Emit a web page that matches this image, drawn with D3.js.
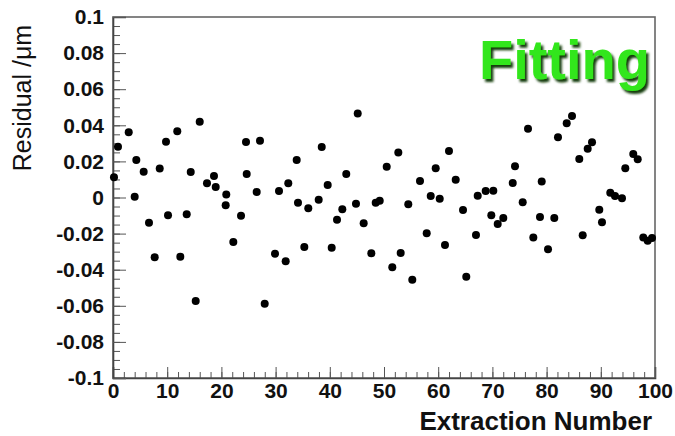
<!DOCTYPE html>
<html><head><meta charset="utf-8">
<script src="https://cdn.jsdelivr.net/npm/d3@7/dist/d3.min.js"></script>
<style>
html,body{margin:0;padding:0;background:#fff;}
svg{display:block;}
</style></head>
<body>
<svg id="chart" width="675" height="436"></svg>
<script>
// Extraction number (x) and residual in µm (y)
const extraction = [0.18,0.92,2.90,4.00,4.30,5.66,6.64,7.69,8.62,9.78,10.15,11.86,12.42,13.60,14.34,15.26,16.00,17.34,18.63,18.95,20.79,20.90,22.20,23.62,24.54,24.67,26.51,27.12,27.99,29.89,30.63,31.86,32.34,33.89,34.13,35.30,36.03,37.95,38.51,39.61,40.35,41.33,42.31,43.04,44.83,45.15,46.25,47.66,48.47,49.21,50.50,51.53,52.64,53.08,54.48,55.22,56.64,57.88,58.62,59.54,60.28,61.25,61.99,63.23,64.58,65.18,66.97,67.29,68.76,69.80,70.17,70.98,72.01,73.75,74.17,75.59,76.57,77.55,78.78,79.10,80.26,81.42,82.10,83.71,84.69,86.03,86.66,87.58,88.38,89.72,90.22,91.75,92.62,93.91,94.52,95.99,96.81,97.84,98.65,99.45];
const residual = [0.0112,0.0281,0.0361,0.0004,0.0208,0.0143,-0.0140,-0.0331,0.0160,0.0309,-0.0099,0.0367,-0.0328,-0.0093,0.0141,-0.0573,0.0420,0.0079,0.0119,0.0058,-0.0043,0.0016,-0.0247,-0.0101,0.0307,0.0130,0.0030,0.0315,-0.0588,-0.0311,0.0036,-0.0353,0.0079,0.0208,-0.0029,-0.0274,-0.0060,-0.0012,0.0280,0.0069,-0.0278,-0.0123,-0.0065,0.0130,-0.0034,0.0466,-0.0143,-0.0309,-0.0029,-0.0018,0.0171,-0.0387,0.0250,-0.0307,-0.0038,-0.0455,0.0091,-0.0198,0.0008,0.0162,-0.0007,-0.0263,0.0258,0.0099,-0.0069,-0.0439,-0.0208,0.0010,0.0036,-0.0099,0.0038,-0.0147,-0.0114,0.0080,0.0173,-0.0027,0.0381,-0.0221,-0.0108,0.0088,-0.0287,-0.0114,0.0334,0.0411,0.0452,0.0213,-0.0209,0.0270,0.0306,-0.0068,-0.0137,0.0027,0.0008,-0.0004,0.0162,0.0241,0.0212,-0.0221,-0.0239,-0.0224];

const xTickValues = [0,10,20,30,40,50,60,70,80,90,100];
const xTickLabels = ["0","10","20","30","40","50","60","70","80","90","100"];
const yTickValues = [-0.1,-0.08,-0.06,-0.04,-0.02,0,0.02,0.04,0.06,0.08,0.1];
const yTickLabels = ["-0.1","-0.08","-0.06","-0.04","-0.02","0","0.02","0.04","0.06","0.08","0.1"];
const xTitle = "Extraction Number";
const yTitle = "Residual /\u03bcm";
const tag = "Fitting";

const svg = d3.select("#chart");
const W = 675, H = 436;
const L = 113, R = 655, T = 17, B = 378;
const x = d3.scaleLinear().domain([0,100]).range([L,R]);
const y = d3.scaleLinear().domain([-0.1,0.1]).range([B,T]);

const defs = svg.append("defs");
const f = defs.append("filter").attr("id","shadow")
  .attr("x","-10%").attr("y","-10%").attr("width","130%").attr("height","140%");
f.append("feDropShadow").attr("dx",2.5).attr("dy",3).attr("stdDeviation",0.8)
  .attr("flood-color","#143c0c").attr("flood-opacity",1);

svg.append("rect").attr("width",W).attr("height",H).attr("fill","#fff");

// frame (top / right)
svg.append("rect").attr("x",L).attr("y",T).attr("width",R-L).attr("height",B-T)
  .attr("fill","none").attr("stroke","#666").attr("stroke-width",1.6);

const font = "'Liberation Sans', Arial, Helvetica, sans-serif";

// minor ticks
const xMinor = d3.range(0,101,2);
const yMinor = d3.range(0,41).map(i => -0.1 + i*0.005);
svg.append("g").attr("transform",`translate(0,${B})`)
  .call(d3.axisBottom(x).tickValues(xMinor).tickSize(-6).tickFormat(""))
  .call(g => g.select(".domain").remove())
  .call(g => g.selectAll("line").attr("stroke","#555"));
svg.append("g").attr("transform",`translate(${L},0)`)
  .call(d3.axisLeft(y).tickValues(yMinor).tickSize(-7).tickFormat(""))
  .call(g => g.select(".domain").remove())
  .call(g => g.selectAll("line").attr("stroke","#555"));

// major axes
const xAxis = svg.append("g").attr("transform",`translate(0,${B})`)
  .call(d3.axisBottom(x).tickValues(xTickValues).tickSize(-11).tickPadding(5)
    .tickFormat((d,i) => xTickLabels[i]));
const yAxis = svg.append("g").attr("transform",`translate(${L},0)`)
  .call(d3.axisLeft(y).tickValues(yTickValues).tickSize(-13).tickPadding(9)
    .tickFormat((d,i) => yTickLabels[i]));
[xAxis,yAxis].forEach(g => {
  g.select(".domain").attr("stroke","#444").attr("stroke-width",1.6);
  g.selectAll(".tick line").attr("stroke","#555");
  g.selectAll(".tick text").attr("fill","#111").style("font-family",font)
    .style("font-size","21px").style("font-weight","bold");
});

// axis titles
svg.append("text").attr("x",652).attr("y",430).attr("text-anchor","end")
  .style("font-family",font).style("font-size","26px").style("font-weight","bold")
  .attr("fill","#111").text(xTitle);
svg.append("text").attr("transform","translate(31,98) rotate(-90)")
  .attr("text-anchor","middle")
  .style("font-family",font).style("font-size","25px")
  .attr("fill","#111").text(yTitle);

// points
svg.append("g").selectAll("circle").data(extraction).join("circle")
  .attr("cx",(d,i) => x(d)).attr("cy",(d,i) => y(residual[i]))
  .attr("r",4).attr("fill","#000");

// tag label with shadow
svg.append("text").attr("x",650).attr("y",79).attr("text-anchor","end")
  .style("font-family",font).style("font-size","56px").style("font-weight","bold")
  .attr("fill","#33e61a").attr("filter","url(#shadow)").text(tag);
</script>
</body></html>
